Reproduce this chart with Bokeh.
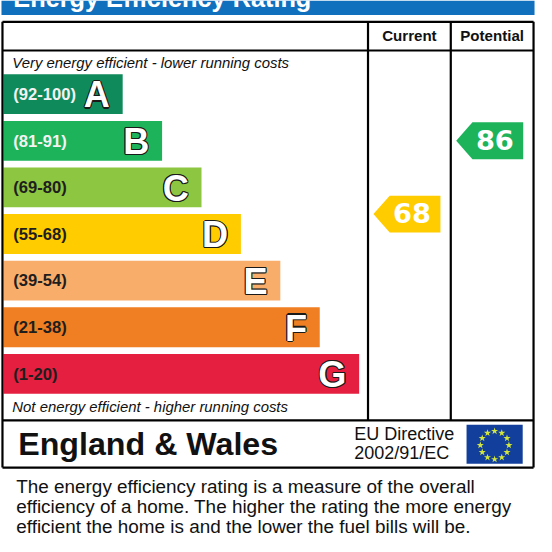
import numpy as np
from bokeh.plotting import figure
from bokeh.models import Range1d
from bokeh.core.properties import value
from bokeh.embed import file_html
from bokeh.resources import INLINE

# ---------------- data ----------------
bands = ["A", "B", "C", "D", "E", "F", "G"]
band_ranges = ["(92-100)", "(81-91)", "(69-80)", "(55-68)", "(39-54)", "(21-38)", "(1-20)"]
range_lo = [92, 81, 69, 55, 39, 21, 1]
range_hi = [100, 91, 80, 68, 54, 38, 20]
band_colors = ["#0f8a5a", "#1db35b", "#8dc641", "#ffcc00", "#f9ad6a", "#f07e22", "#e51f3f"]
range_text_colors = ["#f2f2f2", "#f2f2f2", "#1e1e1e", "#1e1e1e", "#1e1e1e", "#1e1e1e", "#1e1e1e"]
current_rating = 68
potential_rating = 86
column_titles = ["Current", "Potential"]
chart_title = "Energy Efficiency Rating"
top_note = "Very energy efficient - lower running costs"
bottom_note = "Not energy efficient - higher running costs"
region = "England & Wales"
directive_lines = ["EU Directive", "2002/91/EC"]
footer_lines = [
    "The energy efficiency rating is a measure of the overall",
    "efficiency of a home.  The higher the rating the more energy",
    "efficient the home is and the lower the fuel bills will be.",
]

# ---------------- layout (reference pixel units) ----------------
FONT = "Liberation Sans"
FS = 0.975
SHIFT = 0.37  # baseline correction, in em

def fs(px):
    return f"{px * FS:.1f}px"

BOX_L, BOX_R, BOX_T, BOX_B = 6, 545, 22, 481
HEAD_Y = 51.5
COL1_X, COL2_X = 377, 461
SEP_Y = 432.5
BAND_TOP0, BAND_PITCH, BAND_H = 76, 48, 41
BAR_L, BAR_R0, BAR_STEP = 7, 128, 40

n = len(bands)
tops = [BAND_TOP0 + i * BAND_PITCH for i in range(n)]
bots = [t + BAND_H for t in tops]
rights = [BAR_R0 + i * BAR_STEP for i in range(n)]

p = figure(width=536, height=536, x_range=Range1d(4, 548), y_range=Range1d(552, 0),
           output_backend="svg", toolbar_location=None, min_border=0,
           x_axis_location=None, y_axis_location=None)
p.grid.visible = False
p.outline_line_color = None
p.background_fill_color = "white"
p.border_fill_color = "white"


def txt(x, y, text, size, font=FONT, style="normal", color="#111111", align="left", **kw):
    yy = [v - SHIFT * size for v in y]
    p.text(x=x, y=yy, text=text, text_font=value(font), text_font_style=style,
           text_font_size=fs(size), text_color=color, text_baseline="alphabetic",
           text_align=align, **kw)


# title band
p.quad(left=[5], right=[546], top=[0], bottom=[15], fill_color="#1170bd", line_color=None)
txt([17], [7.5], [chart_title], 26, style="bold", color="white")

# bars
p.quad(left=[BAR_L] * n, right=rights, top=tops, bottom=bots, fill_color=band_colors, line_color=None)
txt([17] * n, [b - 14 for b in bots], band_ranges, 17, style="bold", color=range_text_colors)
letter_x = [r - 13 for r in rights]
letter_y = [b - 6 for b in bots]
for dx, dy in [(-1.1, 0), (1.1, 0), (0, -1.1), (0, 1.1), (-0.8, -0.8), (0.8, 0.8), (-0.8, 0.8), (0.8, -0.8)]:
    txt(letter_x, letter_y, bands, 37, style="bold", color="#1a1a1a", align="right",
        x_offset=dx, y_offset=dy)
txt(letter_x, letter_y, bands, 37, style="bold", color="white", align="right")

# notes
txt([16, 16], [70, 424], [top_note, bottom_note], 15.3, style="italic")

# column titles
txt([(COL1_X + COL2_X) / 2, (COL2_X + BOX_R) / 2], [41.5, 41.5], column_titles, 15.5,
    style="bold", align="center")

# rating arrows
def score_y(s):
    for i in range(n):
        if range_lo[i] <= s <= range_hi[i]:
            frac = (s - range_lo[i]) / (range_hi[i] - range_lo[i])
            return bots[i] - frac * BAND_H
    return bots[-1]

def band_color(s):
    for i in range(n):
        if range_lo[i] <= s <= range_hi[i]:
            return band_colors[i]
    return band_colors[-1]

ratings = [current_rating, potential_rating]
col_lefts = [COL1_X, COL2_X]
col_rights = [COL2_X, BOX_R]
xs, ys, cols, tx, ty = [], [], [], [], []
for s, cl, cr in zip(ratings, col_lefts, col_rights):
    yc = score_y(s)
    tip = cl + 5.5
    body = tip + 16.5
    right = cr - 10.5
    h = 19
    xs.append([tip, body, right, right, body])
    ys.append([yc, yc - h, yc - h, yc + h, yc + h])
    cols.append(band_color(s))
    tx.append((body + right) / 2 - 3)
    ty.append(yc + 9.5)
p.patches(xs=xs, ys=ys, fill_color=cols, line_color=None)
txt(tx, ty, [str(r) for r in ratings], 28, font="DejaVu Sans", style="bold", color="white",
    align="center")

# frame lines
p.segment(x0=[BOX_L, BOX_L, BOX_L, BOX_R, BOX_L, BOX_L, COL1_X, COL2_X],
          y0=[BOX_T, BOX_B, BOX_T, BOX_T, HEAD_Y, SEP_Y, BOX_T, BOX_T],
          x1=[BOX_R, BOX_R, BOX_L, BOX_R, BOX_R, BOX_R, COL1_X, COL2_X],
          y1=[BOX_T, BOX_B, BOX_B, BOX_B, HEAD_Y, SEP_Y, SEP_Y, SEP_Y],
          line_color="black", line_width=2.2)

# bottom row
txt([22], [468.5], [region], 33, style="bold")
txt([363, 363], [453, 473], directive_lines, 18.5)

# EU flag
FL, FR, FT, FB = 477, 534, 437, 477
p.quad(left=[FL], right=[FR], top=[FT], bottom=[FB], fill_color="#123f9c", line_color=None)
ang = np.arange(12) * np.pi / 6
cx, cy = (FL + FR) / 2, (FT + FB) / 2 + 1
p.scatter(x=cx + 14.5 * np.cos(ang), y=cy + 14.5 * np.sin(ang), marker="star", size=7.5,
          fill_color="#d2e63c", line_color=None)

# footer
txt([20] * 3, [507.3, 528.3, 549], footer_lines, 19.4)

open("out.html", "w").write(file_html(p, INLINE))
